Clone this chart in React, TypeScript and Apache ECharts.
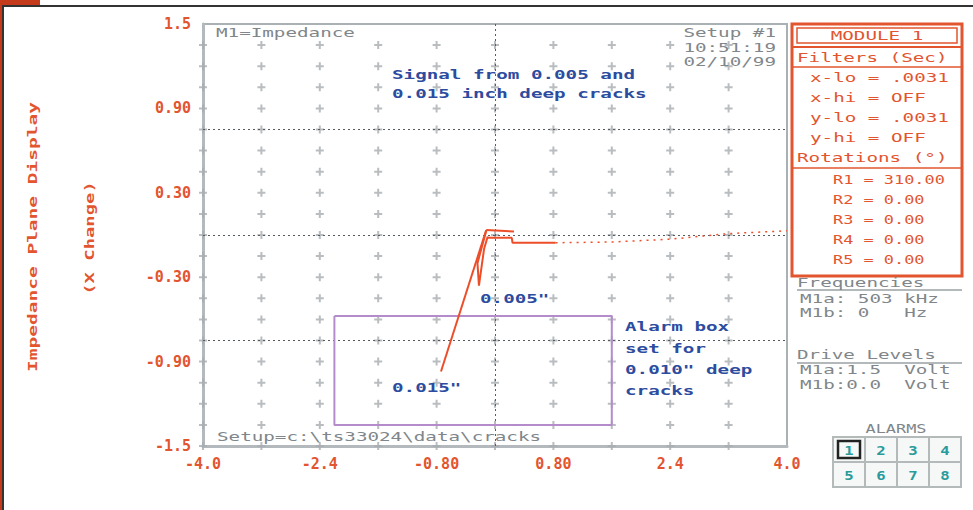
import React, { useEffect, useRef } from "react";
import * as echarts from "echarts";

// ---- axis ticks ----
const xTicks = [-4, -3.2, -2.4, -1.6, -0.8, 0, 0.8, 1.6, 2.4, 3.2, 4];
const xTickLabels = ["-4.0", "", "-2.4", "", "-0.80", "", "0.80", "", "2.4", "", "4.0"];
const yTicks = [-1.5, -1.35, -1.2, -1.05, -0.9, -0.75, -0.6, -0.45, -0.3, -0.15, 0, 0.15, 0.3, 0.45, 0.6, 0.75, 0.9, 1.05, 1.2, 1.35, 1.5];
const yTickLabels = ["-1.5", "", "", "", "-0.90", "", "", "", "-0.30", "", "", "", "0.30", "", "", "", "0.90", "", "", "", "1.5"];
const yDividers = [0.75, 0, -0.75];
const xDividers = [0];

// ---- signal traces (x, y) ----
const trace015 = [[-0.74, -0.97], [-0.12, 0.035]];
const trace005 = [[-0.12, 0.03], [-0.24, -0.2], [-0.22, -0.36], [-0.15, -0.1], [-0.1, -0.01]];
const traceTop = [[-0.12, 0.035], [0.26, 0.025]];
const traceLower = [[-0.1, -0.02], [0.23, -0.02], [0.24, -0.055], [0.83, -0.055]];
const traceTail = [[0.83, -0.055], [1.6, -0.05], [2.4, -0.03], [3.2, 0.01], [4.0, 0.03]];
const alarmBox = [[-2.2, -0.575], [1.6, -0.575], [1.6, -1.35], [-2.2, -1.35], [-2.2, -0.575]];

// ---- panel texts ----
const filterLines = ["x-lo = .0031", "x-hi = OFF", "y-lo = .0031", "y-hi = OFF"];
const rotationLines = ["R1 = 310.00", "R2 = 0.00", "R3 = 0.00", "R4 = 0.00", "R5 = 0.00"];
const freqLines = ["M1a: 503 kHz", "M1b: 0   Hz"];
const driveLines = ["M1a:1.5  Volt", "M1b:0.0  Volt"];
const alarmNumbers = ["1", "2", "3", "4", "5", "6", "7", "8"];
const setupLines = ["Setup #1", "10:51:19", "02/10/99"];
const signalNote = ["Signal from 0.005 and", "0.015 inch deep cracks"];
const alarmNote = ["Alarm box", "set for", "0.010\" deep", "cracks"];

const MONO = '"DejaVu Sans Mono", monospace';
const RED = "#e2552f";
const BLUE = "#2d4c9e";
const GRAY = "#80868a";
const TEAL = "#2a9a9a";

function txt(text: string, x: number, y: number, fill: string, o: any = {}) {
  return {
    type: "text",
    x,
    y,
    z: 100,
    scaleX: o.sx ?? 1.48,
    rotation: o.rot ?? 0,
    style: {
      text,
      fill,
      fontFamily: MONO,
      fontSize: o.fs ?? 13,
      fontWeight: o.bold ? "bold" : "normal",
      textAlign: o.align ?? "left",
      textVerticalAlign: "middle",
    },
  };
}

function findLabel(ticks: number[], labels: string[], v: number, index: number) {
  if (index >= 0 && index < ticks.length && Math.abs(ticks[index] - v) < 1e-6) return labels[index];
  return "";
}

export default function App() {
  const ref = useRef<HTMLDivElement>(null);
  useEffect(() => {
    document.body.style.margin = "0";
    const chart = echarts.init(ref.current!, null, { renderer: "svg" });

    const plusPts: number[][] = [];
    xTicks.slice(0, -1).forEach((x) => yTicks.slice(0, -1).forEach((y) => plusPts.push([x, y])));

    const graphic: any[] = [];
    // page frame
    graphic.push({ type: "rect", shape: { x: 0, y: 0, width: 40, height: 5 }, style: { fill: "#c63a1c" } });
    graphic.push({ type: "rect", shape: { x: 0, y: 0, width: 2, height: 510 }, style: { fill: "#c63a1c" } });
    graphic.push({ type: "rect", shape: { x: 2, y: 5, width: 971, height: 2 }, style: { fill: "#333" } });
    graphic.push({ type: "rect", shape: { x: 2, y: 5, width: 2, height: 505 }, style: { fill: "#333" } });

    // axis titles
    graphic.push(txt("Impedance Plane Display", 33, 237, RED, { rot: Math.PI / 2, align: "center", bold: true, sx: 1.5 }));
    graphic.push(txt("(X Change)", 90, 238, RED, { rot: Math.PI / 2, align: "center", bold: true, sx: 1.45 }));

    // in-plot texts
    graphic.push(txt("M1=Impedance", 216, 33, GRAY));
    setupLines.forEach((s, i) => graphic.push(txt(s, 776, 33 + i * 14.5, GRAY, { align: "right" })));
    graphic.push(txt("Setup=c:\\ts33024\\data\\cracks", 217, 437, GRAY));
    signalNote.forEach((s, i) => graphic.push(txt(s, 392, 75 + i * 19, BLUE, { bold: true })));
    graphic.push(txt("0.005\"", 480, 299, BLUE, { bold: true }));
    graphic.push(txt("0.015\"", 392, 388, BLUE, { bold: true }));
    alarmNote.forEach((s, i) => graphic.push(txt(s, 625, 327 + i * 21.3, BLUE, { bold: true })));

    // module panel
    graphic.push({ type: "rect", shape: { x: 792, y: 24, width: 170, height: 252 }, style: { fill: "#fff", stroke: RED, lineWidth: 3 }, z: 90 });
    graphic.push({ type: "rect", shape: { x: 797, y: 28, width: 160, height: 15 }, style: { fill: "none", stroke: RED, lineWidth: 1.5 }, z: 91 });
    graphic.push({ type: "line", shape: { x1: 793, y1: 47, x2: 961, y2: 47 }, style: { stroke: RED, lineWidth: 2 }, z: 91 });
    graphic.push({ type: "line", shape: { x1: 793, y1: 67, x2: 961, y2: 67 }, style: { stroke: RED, lineWidth: 1.5 }, z: 91 });
    graphic.push({ type: "line", shape: { x1: 793, y1: 168, x2: 961, y2: 168 }, style: { stroke: RED, lineWidth: 1.5 }, z: 91 });
    graphic.push(txt("MODULE 1", 877, 35.5, RED, { align: "center" }));
    graphic.push(txt("Filters (Sec)", 797, 57.5, RED));
    filterLines.forEach((s, i) => graphic.push(txt(s, 810, 78 + i * 20, RED)));
    graphic.push(txt("Rotations (°)", 797, 158, RED));
    rotationLines.forEach((s, i) => graphic.push(txt(s, 833, 180 + i * 20, RED, { sx: 1.3 })));

    // frequencies / drive levels
    graphic.push(txt("Frequencies", 797, 283, GRAY));
    graphic.push({ type: "line", shape: { x1: 797, y1: 290, x2: 962, y2: 290 }, style: { stroke: "#9aa0a3", lineWidth: 1.5 } });
    freqLines.forEach((s, i) => graphic.push(txt(s, 800, 299 + i * 14, GRAY)));
    graphic.push(txt("Drive Levels", 797, 355, GRAY));
    graphic.push({ type: "line", shape: { x1: 797, y1: 363, x2: 962, y2: 363 }, style: { stroke: "#9aa0a3", lineWidth: 1.5 } });
    driveLines.forEach((s, i) => graphic.push(txt(s, 800, 370 + i * 15, GRAY)));

    // alarms
    graphic.push(txt("ALARMS", 896, 429, GRAY, { align: "center", sx: 1.3 }));
    alarmNumbers.forEach((n, i) => {
      const c = i % 4;
      const r = Math.floor(i / 4);
      const x = 833 + c * 32;
      const y = 437 + r * 25;
      graphic.push({ type: "rect", shape: { x, y, width: 32, height: 25 }, style: { fill: "#f6f8f8", stroke: "#b4b9ba", lineWidth: 2 } });
      if (i === 0) {
        graphic.push({ type: "rect", shape: { x: x + 5, y: y + 4, width: 22, height: 17 }, style: { fill: "none", stroke: "#222", lineWidth: 2.5 } });
      }
      graphic.push(txt(n, x + 16, y + 13, TEAL, { align: "center", bold: true, sx: 1.2 }));
    });

    const lineBase = { type: "line", symbol: "none", silent: true, z: 5 };

    chart.setOption({
      animation: false,
      backgroundColor: "#fff",
      grid: { show: true, left: 203, right: 186, top: 24, bottom: 64, borderColor: "#aab1b4", borderWidth: 2, backgroundColor: "#fff" },
      xAxis: {
        type: "value",
        min: -4,
        max: 4,
        interval: 0.8,
        axisLine: { show: true, onZero: false, lineStyle: { color: "#b3b9bc", width: 3 } },
        axisTick: { show: false },
        splitLine: { show: false },
        axisLabel: {
          margin: 10,
          color: RED,
          fontFamily: MONO,
          fontWeight: "bold",
          fontSize: 15,
          formatter: (v: number, i: number) => findLabel(xTicks, xTickLabels, v, i),
        },
      },
      yAxis: {
        type: "value",
        min: -1.5,
        max: 1.5,
        interval: 0.15,
        axisLine: { show: true, onZero: false, lineStyle: { color: "#b3b9bc", width: 3 } },
        axisTick: { show: false },
        splitLine: { show: false },
        axisLabel: {
          margin: 12,
          color: RED,
          fontFamily: MONO,
          fontWeight: "bold",
          fontSize: 15,
          formatter: (v: number, i: number) => findLabel(yTicks, yTickLabels, v, i),
        },
      },
      graphic,
      series: [
        {
          type: "scatter",
          data: plusPts,
          symbol: "path://M3,0 h2 v3 h3 v2 h-3 v3 h-2 v-3 h-3 v-2 h3 z",
          symbolSize: 8,
          itemStyle: { color: "#a7adb0" },
          silent: true,
          z: 1,
          markLine: {
            silent: true,
            symbol: "none",
            label: { show: false },
            lineStyle: { color: "#555b5e", type: [2, 3], width: 1 },
            data: [...yDividers.map((v) => ({ yAxis: v })), ...xDividers.map((v) => ({ xAxis: v }))],
          },
        },
        { ...lineBase, data: alarmBox, lineStyle: { color: "#b48ccb", width: 2 } },
        { ...lineBase, data: trace015, lineStyle: { color: "#ec4e2a", width: 2 } },
        { ...lineBase, data: trace005, lineStyle: { color: "#ec4e2a", width: 2 } },
        { ...lineBase, data: traceTop, lineStyle: { color: "#ec4e2a", width: 2 } },
        { ...lineBase, data: traceLower, lineStyle: { color: "#ec4e2a", width: 2 } },
        { ...lineBase, data: traceTail, lineStyle: { color: "#ec4e2a", width: 1.5, type: [2, 5] } },
      ],
    });
    return () => chart.dispose();
  }, []);
  return <div ref={ref} style={{ width: 973, height: 510 }} />;
}
